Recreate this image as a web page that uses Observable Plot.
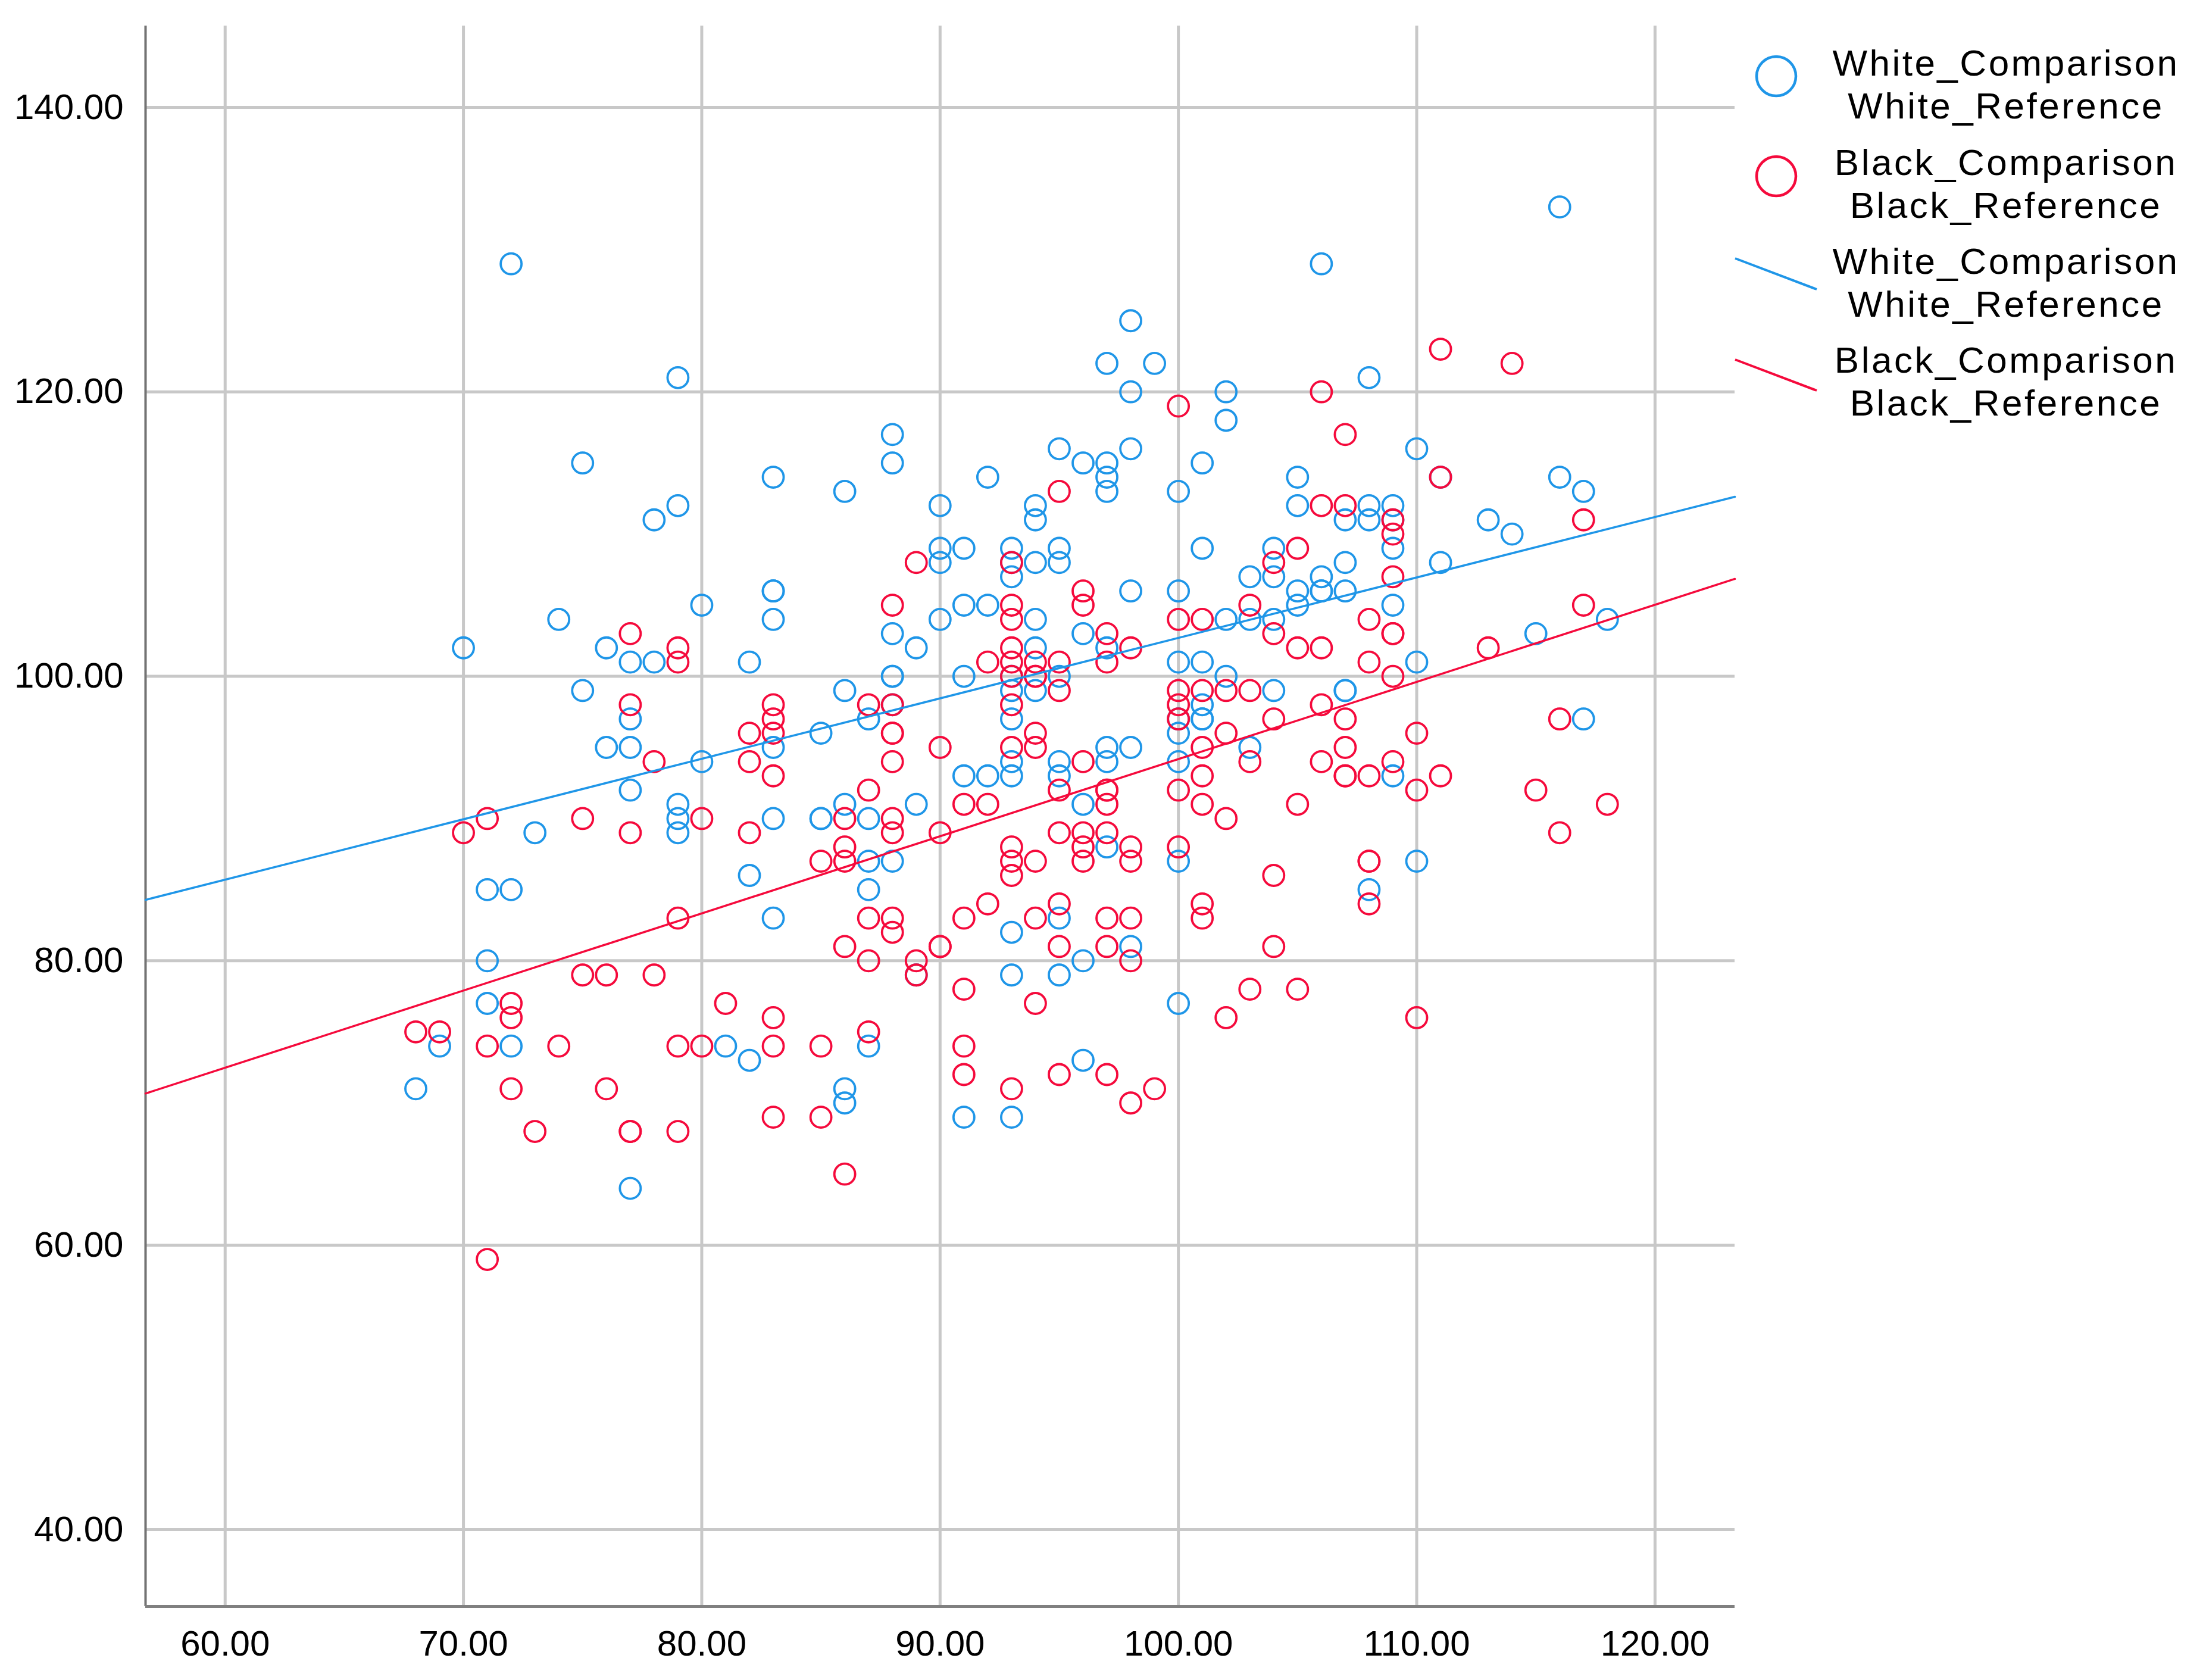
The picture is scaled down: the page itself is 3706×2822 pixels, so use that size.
<!DOCTYPE html>
<html>
<head>
<meta charset="utf-8">
<script src="https://cdn.jsdelivr.net/npm/d3@7"></script>
<script src="https://cdn.jsdelivr.net/npm/@observablehq/plot@0.6"></script>
<style>
  html, body { margin: 0; padding: 0; background: #ffffff; }
  #chart svg { display: block; }
</style>
</head>
<body>
<div id="chart"></div>
<script>
// ---- axes ----
const xTicks = [60, 70, 80, 90, 100, 110, 120];
const yTicks = [40, 60, 80, 100, 120, 140];
const xDomain = [56.66, 123.35];
const yDomain = [34.6, 145.73];

// ---- series labels ----
const seriesLabels = [
  ["White_Comparison", "White_Reference"],
  ["Black_Comparison", "Black_Reference"]
];

// ---- White group: [x, [y values]] ----
const whiteColumns = [
  [68, [71]], [69, [74]], [70, [102]], [71, [85, 80, 77]], [72, [129, 85, 74]],
  [73, [89]], [74, [104]], [75, [115, 99]], [76, [102, 95]], [77, [101, 97, 95, 92, 64]],
  [78, [111, 101]], [79, [121, 112, 91, 90, 89]], [80, [105, 94]], [81, [74]],
  [82, [101, 86, 73]], [83, [114, 106, 106, 104, 95, 90, 83]], [85, [96, 90, 90]],
  [86, [113, 99, 91, 71, 70]], [87, [97, 90, 87, 85, 74]],
  [88, [117, 115, 103, 100, 100, 98, 87]], [89, [102, 91, 79]], [90, [112, 109, 108, 104]],
  [91, [109, 105, 100, 93, 69]], [92, [114, 105, 93]],
  [93, [109, 108, 107, 100, 99, 97, 94, 93, 82, 79, 69]],
  [94, [112, 111, 108, 104, 102, 99]], [95, [116, 109, 108, 100, 94, 93, 83, 79]],
  [96, [115, 103, 91, 80, 73]], [97, [122, 115, 114, 113, 102, 95, 94, 88]],
  [98, [125, 120, 116, 106, 95, 81]], [99, [122]],
  [100, [113, 106, 101, 97, 96, 94, 87, 77]], [101, [115, 109, 101, 98, 97, 97]],
  [102, [120, 118, 104, 100]], [103, [107, 104, 95]], [104, [109, 107, 104, 99]],
  [105, [114, 112, 106, 105]], [106, [129, 107, 106, 106]], [107, [111, 108, 106, 99, 99]],
  [108, [121, 112, 111, 85]], [109, [112, 111, 109, 105, 93]], [110, [116, 101, 87]],
  [111, [114, 108]], [113, [111]], [114, [110]], [115, [103]], [116, [133, 114]],
  [117, [113, 97]], [118, [104]]
];

// ---- Black group: [x, [y values]] ----
const blackColumns = [
  [68, [75]], [69, [75]], [70, [89]], [71, [90, 74, 59]], [72, [77, 76, 71]],
  [73, [68]], [74, [74]], [75, [90, 79]], [76, [79, 71]], [77, [103, 98, 89, 68, 68]],
  [78, [94, 79]], [79, [102, 101, 83, 74, 68]], [80, [90, 74]], [81, [77]],
  [82, [96, 94, 89]], [83, [98, 97, 96, 93, 76, 74, 69]], [85, [87, 74, 69]],
  [86, [90, 88, 87, 81, 65]], [87, [98, 92, 83, 80, 75]],
  [88, [105, 98, 96, 96, 94, 90, 89, 83, 82]], [89, [108, 80, 79]], [90, [95, 89, 81, 81]],
  [91, [91, 83, 78, 74, 72]], [92, [101, 91, 84]],
  [93, [108, 105, 104, 102, 101, 100, 98, 95, 88, 87, 86, 71]],
  [94, [101, 100, 100, 96, 95, 87, 83, 77]], [95, [113, 101, 99, 92, 89, 84, 81, 72]],
  [96, [106, 105, 94, 89, 88, 87]], [97, [103, 101, 92, 92, 91, 89, 83, 81, 72]],
  [98, [102, 88, 87, 83, 80, 70]], [99, [71]], [100, [119, 104, 99, 98, 97, 92, 88]],
  [101, [104, 99, 95, 93, 91, 84, 83]], [102, [99, 96, 90, 76]], [103, [105, 99, 94, 78]],
  [104, [108, 103, 97, 86, 81]], [105, [109, 102, 91, 78]], [106, [120, 112, 102, 98, 94]],
  [107, [117, 112, 97, 95, 93, 93]], [108, [104, 101, 93, 87, 87, 84]],
  [109, [111, 110, 107, 103, 103, 100, 94]], [110, [96, 92, 76]], [111, [123, 114, 93]],
  [113, [102]], [114, [122]], [115, [92]], [116, [97, 89]], [117, [111, 105]], [118, [91]]
];

// ---- linear fit lines: [intercept, slope] ----
const whiteFit = [60.2, 0.425];
const blackFit = [39.93, 0.5425];

// ---- styling ----
const blue = "#1F96E8";
const red = "#F50A3C";
const font = "Liberation Sans, Arial, sans-serif";

const flatten = cols => cols.flatMap(([x, ys]) => ys.map(y => ({x, y})));
const whitePts = flatten(whiteColumns);
const blackPts = flatten(blackColumns);
const fitLine = ([a, b]) => xDomain.map(x => ({x, y: a + b * x}));

const W = 3706, H = 2822;
const mL = 244, mR = 792, mT = 43, mB = 124;

const plot = Plot.plot({
  width: W,
  height: H,
  marginLeft: mL,
  marginRight: mR,
  marginTop: mT,
  marginBottom: mB,
  style: {fontFamily: font, fontSize: "60px", color: "#000", background: "#fff"},
  x: {domain: xDomain},
  y: {domain: yDomain},
  marks: [
    Plot.gridX(xTicks, {stroke: "#c8c8c8", strokeOpacity: 1, strokeWidth: 5}),
    Plot.gridY(yTicks, {stroke: "#c8c8c8", strokeOpacity: 1, strokeWidth: 5}),
    Plot.ruleX([xDomain[0]], {stroke: "#737373", strokeWidth: 4}),
    Plot.ruleY([yDomain[0]], {stroke: "#808080", strokeWidth: 5}),
    Plot.axisX(xTicks, {tickSize: 0, tickPadding: 40, tickFormat: d3.format(".2f"), label: null, fill: "#000"}),
    Plot.axisY(yTicks, {tickSize: 0, tickPadding: 37, tickFormat: d3.format(".2f"), label: null, fill: "#000"}),
    Plot.dot(whitePts, {x: "x", y: "y", r: 17.5, stroke: blue, strokeWidth: 3.8, fill: "none"}),
    Plot.dot(blackPts, {x: "x", y: "y", r: 17.5, stroke: red, strokeWidth: 3.8, fill: "none"}),
    Plot.line(fitLine(whiteFit), {x: "x", y: "y", stroke: blue, strokeWidth: 3.5}),
    Plot.line(fitLine(blackFit), {x: "x", y: "y", stroke: red, strokeWidth: 3.5})
  ]
});

document.getElementById("chart").appendChild(plot);

// ---- legend (inside the SVG, to the right of the plot area) ----
const svg = d3.select(plot);
const lg = svg.append("g").attr("font-family", font).attr("font-size", 62)
  .attr("letter-spacing", 3.5).attr("fill", "#000");
const legendRows = [
  {kind: "circle", color: blue, labels: seriesLabels[0], cy: 128, base: 127},
  {kind: "circle", color: red, labels: seriesLabels[1], cy: 296, base: 294},
  {kind: "line", color: blue, labels: seriesLabels[0], cy: 460, base: 460},
  {kind: "line", color: red, labels: seriesLabels[1], cy: 630, base: 626}
];
for (const row of legendRows) {
  if (row.kind === "circle") {
    lg.append("circle").attr("cx", 2984).attr("cy", row.cy).attr("r", 33)
      .attr("fill", "none").attr("stroke", row.color).attr("stroke-width", 4.5);
  } else {
    lg.append("line").attr("x1", 2915).attr("y1", row.cy - 26).attr("x2", 3052).attr("y2", row.cy + 26)
      .attr("stroke", row.color).attr("stroke-width", 4);
  }
  const txt = lg.append("text").attr("text-anchor", "middle").attr("y", row.base);
  row.labels.forEach((t, i) => {
    txt.append("tspan").attr("x", 3370).attr("dy", i === 0 ? 0 : 72).text(t);
  });
}
</script>
</body>
</html>
